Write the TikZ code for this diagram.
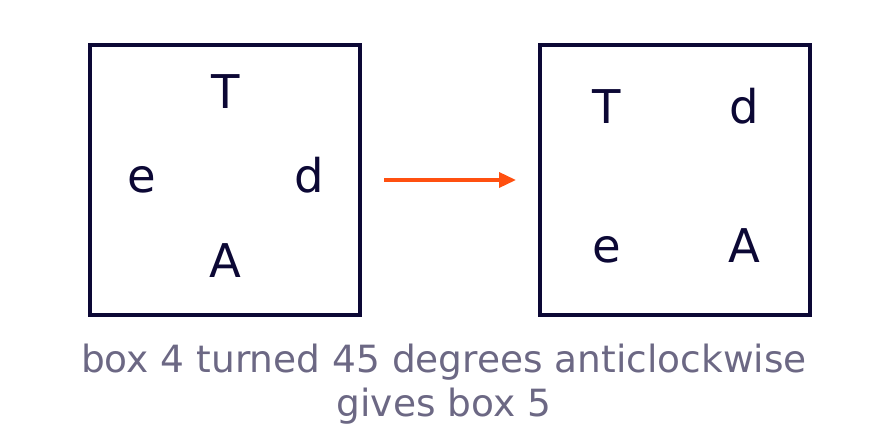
\documentclass[tikz,border=0pt]{standalone}
\usepackage{fontspec}
\setmainfont{DejaVu Sans}
\usetikzlibrary{arrows.meta}

\definecolor{boxink}{HTML}{0C0835}
\definecolor{capink}{HTML}{6C6884}
\definecolor{arrowink}{HTML}{FF5010}

\begin{document}
\begin{tikzpicture}[
		x=1pt, y=-1pt,
		every path/.style={line width=3.5pt},
		boxframe/.style={draw=boxink, minimum size=270pt, inner sep=0pt, outer sep=0pt},
		letter/.style={anchor=base, inner sep=0pt, text=boxink, font=\fontsize{46.5}{56}\selectfont},
		caption/.style={anchor=base, inner sep=0pt, text=capink, font=\fontsize{37.5}{45}\selectfont}
	]
	\useasboundingbox (0, 0) rectangle (888, 438);

	\node[boxframe] (box4) at (225, 180) {};
	\node[letter] (l4T) at (225.5, 109) {T};
	\node[letter] (l4e) at (141.5, 193) {e};
	\node[letter] (l4d) at (309.5, 193) {d};
	\node[letter] (l4A) at (225.5, 277) {A};

	\node[boxframe] (box5) at (675, 180) {};
	\node[letter] (l5T) at (606.5, 124) {T};
	\node[letter] (l5d) at (744, 124) {d};
	\node[letter] (l5e) at (606.5, 262) {e};
	\node[letter] (l5A) at (744, 262) {A};

	\draw[arrowink, -{Triangle[length=17pt, width=15pt]}, shorten <=24pt, shorten >=24pt] (box4.east) -- (box5.west);

	\node[caption] (cap1) at (444, 372) {box 4 turned 45 degrees anticlockwise};
	\node[caption] (cap2) at (444, 416) {gives box 5};
\end{tikzpicture}
\end{document}
